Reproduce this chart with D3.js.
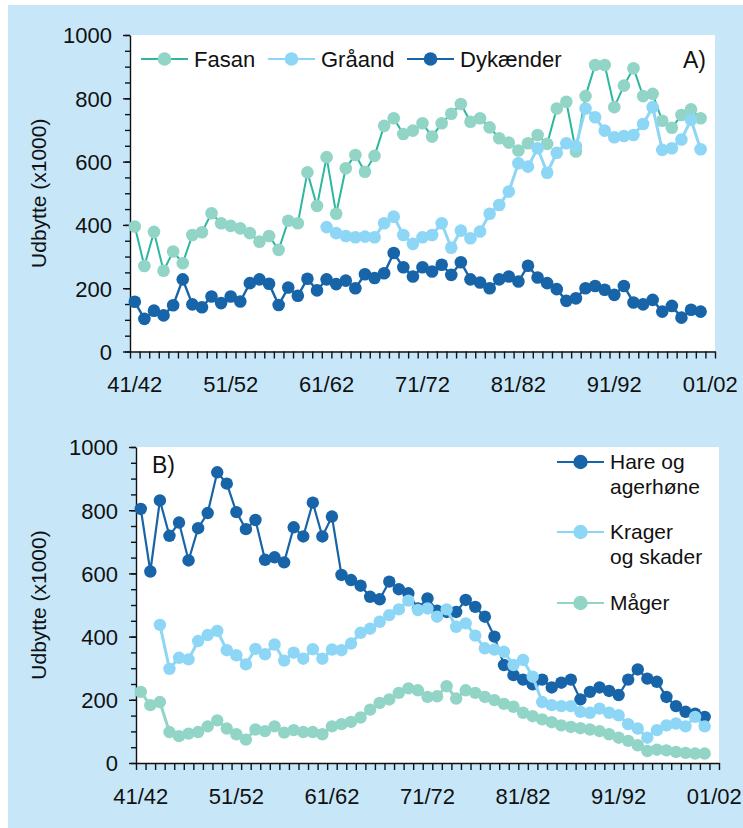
<!DOCTYPE html>
<html>
<head>
<meta charset="utf-8">
<script src="https://cdnjs.cloudflare.com/ajax/libs/d3/7.8.5/d3.min.js"></script>
<style>
  body { margin: 0; background: #fff; }
  svg text { font-family: "Liberation Sans", Arial, sans-serif; fill: #111; }
</style>
</head>
<body>
<svg id="chart" width="743" height="828"></svg>
<script>
// seasons 41/42 .. 01/02 (last one has no data yet)
var seasons = ["41/42","42/43","43/44","44/45","45/46","46/47","47/48","48/49","49/50","50/51",
  "51/52","52/53","53/54","54/55","55/56","56/57","57/58","58/59","59/60","60/61",
  "61/62","62/63","63/64","64/65","65/66","66/67","67/68","68/69","69/70","70/71",
  "71/72","72/73","73/74","74/75","75/76","76/77","77/78","78/79","79/80","80/81",
  "81/82","82/83","83/84","84/85","85/86","86/87","87/88","88/89","89/90","90/91",
  "91/92","92/93","93/94","94/95","95/96","96/97","97/98","98/99","99/00","00/01",
  "01/02"];
var seasonLabels = ["41/42","51/52","61/62","71/72","81/82","91/92","01/02"];
var yTicks = [0, 200, 400, 600, 800, 1000];

// A) udbytte (x1000)
var fasan = [395,270,378,255,316,279,368,377,437,405, 397,389,374,347,365,321,413,405,566,460,
  614,435,579,621,568,618,713,737,687,698, 721,679,721,751,782,726,737,708,674,660,
  635,658,684,656,768,789,632,807,905,905, 772,840,895,807,814,729,707,747,765,737];
var graaand = [null,null,null,null,null,null,null,null,null,null, null,null,null,null,null,null,null,null,null,null,
  393,374,365,361,363,361,405,426,368,340, 361,368,405,328,382,358,379,435,463,505,
  595,584,642,565,628,658,649,768,740,698, 677,681,684,719,772,637,642,670,732,639];
var dykaender = [157,103,129,114,146,228,149,140,174,153, 174,158,216,228,214,147,202,176,230,193,
  228,213,224,200,244,232,247,311,266,237, 266,253,274,242,282,228,218,200,228,237,
  221,271,234,216,197,160,168,200,207,195, 179,207,155,149,163,126,144,107,132,126];

// B)
var hare = [804,606,831,719,761,641,743,791,920,884, 794,740,769,643,651,635,746,717,824,717,
  780,595,579,561,526,518,574,550,537,489, 521,482,478,478,516,494,463,400,310,278,
  264,249,264,239,254,264,201,225,239,228, 215,264,296,267,257,209,180,162,156,146];
var krager = [null,null,437,298,333,328,386,405,418,357, 341,312,361,344,375,324,349,330,360,330,
  359,357,378,412,425,447,468,486,514,484, 489,463,486,431,442,403,363,359,352,310,
  326,273,193,183,180,180,162,159,172,159, 151,123,109,80,104,119,125,116,146,116];
var maager = [225,183,193,98,85,93,98,116,135,109, 91,74,106,101,116,96,104,98,98,91,
  116,123,130,144,169,190,201,222,236,230, 209,211,243,204,230,222,209,199,187,178,
  159,148,138,129,119,114,110,106,101,91, 80,70,56,38,42,40,35,32,30,30];

var svg = d3.select("#chart");

svg.append("rect")
    .attr("x", 8).attr("y", 5)
    .attr("width", 743 - 8).attr("height", 828 - 5)
    .attr("fill", "#c7e7f9");

function drawPanel(p) {
  var g = svg.append("g");

  var x = d3.scaleBand().domain(seasons).range([p.left, p.right]);
  var xEdge = d3.scaleLinear().domain([0, seasons.length]).range([p.left, p.right]);
  var y = d3.scaleLinear().domain([0, 1000]).range([p.bottom, p.top]);

  g.append("rect")
      .attr("x", p.left).attr("y", p.top)
      .attr("width", p.right - p.left).attr("height", p.bottom - p.top)
      .attr("fill", "#fff");

  // minor + major y ticks
  g.append("g")
      .attr("transform", "translate(" + p.left + ",0)")
      .call(d3.axisLeft(y).tickValues(d3.range(0, 1001, 50)).tickSize(5).tickFormat(""))
      .call(function(a) { a.select(".domain").remove(); });
  var ya = g.append("g")
      .attr("transform", "translate(" + p.left + ",0)")
      .call(d3.axisLeft(y).tickValues(yTicks).tickSize(7).tickPadding(11).tickSizeOuter(0).tickFormat(d3.format("d")));
  ya.selectAll("text").style("font-size", "22px").attr("dy", "0.36em");

  // x ticks at season boundaries, labels at season centres
  g.append("g")
      .attr("transform", "translate(0," + p.bottom + ")")
      .call(d3.axisBottom(xEdge).tickValues(d3.range(seasons.length + 1)).tickSize(7).tickFormat("").tickSizeOuter(0));
  g.append("g")
      .attr("transform", "translate(0," + p.bottom + ")")
      .call(d3.axisBottom(x).tickValues(seasonLabels).tickSize(0).tickPadding(25))
      .call(function(a) { a.select(".domain").remove(); })
      .selectAll("text").style("font-size", "22px");

  g.selectAll(".domain, .tick line").attr("stroke", "#111").attr("stroke-width", 1.4);

  g.append("text")
      .attr("transform", "translate(39," + ((p.top + p.bottom) / 2) + ") rotate(-90)")
      .attr("text-anchor", "middle")
      .attr("dy", "0.35em")
      .style("font-size", "21px")
      .text("Udbytte (x1000)");

  var line = d3.line()
      .defined(function(d) { return d != null; })
      .x(function(d, i) { return x(seasons[i]) + x.bandwidth() / 2; })
      .y(function(d) { return y(d); });

  p.series.forEach(function(s) {
    g.append("path")
        .datum(s.values)
        .attr("fill", "none")
        .attr("stroke", s.line)
        .attr("stroke-width", s.width)
        .attr("d", line);
    g.selectAll(null)
        .data(s.values.map(function(v, i) { return {v: v, i: i}; }).filter(function(d) { return d.v != null; }))
      .enter().append("circle")
        .attr("cx", function(d) { return x(seasons[d.i]) + x.bandwidth() / 2; })
        .attr("cy", function(d) { return y(d.v); })
        .attr("r", p.r)
        .attr("fill", s.fill);
  });

  g.append("text")
      .attr("x", p.tag[0]).attr("y", p.tag[1])
      .style("font-size", "23px")
      .text(p.tagText);

  return g;
}

var mint = "#92d5c6", sky = "#8dd6f6", navy = "#1764a8";

var gA = drawPanel({
  left: 130, right: 715, top: 35, bottom: 351.5, r: 6.3,
  tag: [683, 68], tagText: "A)",
  series: [
    {name: "Fasan", values: fasan, fill: mint, line: "#2bb89f", width: 2},
    {name: "Gråand", values: graaand, fill: sky, line: sky, width: 3},
    {name: "Dykænder", values: dykaender, fill: navy, line: navy, width: 2.4}
  ]
});

var gB = drawPanel({
  left: 136, right: 719, top: 447, bottom: 763, r: 6.2,
  tag: [152, 473], tagText: "B)",
  series: [
    {name: "Hare", values: hare, fill: navy, line: navy, width: 2.2},
    {name: "Krager", values: krager, fill: sky, line: sky, width: 3},
    {name: "Måger", values: maager, fill: mint, line: mint, width: 3}
  ]
});

// legend A, one row
var legA = [
  {label: "Fasan", x: 141, fill: mint, line: "#2bb89f"},
  {label: "Gråand", x: 268, fill: sky, line: sky},
  {label: "Dykænder", x: 407, fill: navy, line: navy}
];
var la = gA.selectAll(".legA").data(legA).enter().append("g")
    .attr("transform", function(d) { return "translate(" + d.x + ",59)"; });
la.append("line").attr("x1", 0).attr("x2", 47).attr("stroke", function(d) { return d.line; }).attr("stroke-width", 2);
la.append("circle").attr("cx", 23.5).attr("r", 6.8).attr("fill", function(d) { return d.fill; });
la.append("text").attr("x", 53).attr("dy", "0.36em").style("font-size", "22px").text(function(d) { return d.label; });

// legend B, stacked
var legB = [
  {lines: ["Hare og", "agerhøne"], y: 462, fill: navy},
  {lines: ["Krager", "og skader"], y: 532, fill: sky},
  {lines: ["Måger"], y: 603, fill: mint}
];
var lb = gB.selectAll(".legB").data(legB).enter().append("g")
    .attr("transform", function(d) { return "translate(557," + d.y + ")"; });
lb.append("line").attr("x1", 0).attr("x2", 47).attr("stroke", function(d) { return d.fill; }).attr("stroke-width", 2);
lb.append("circle").attr("cx", 23.5).attr("r", 7.2).attr("fill", function(d) { return d.fill; });
lb.append("text")
    .style("font-size", "21px")
    .selectAll("tspan")
    .data(function(d) { return d.lines; })
  .enter().append("tspan")
    .attr("x", 53)
    .attr("y", function(d, i) { return 7 + i * 25; })
    .text(function(d) { return d; });
</script>
</body>
</html>
